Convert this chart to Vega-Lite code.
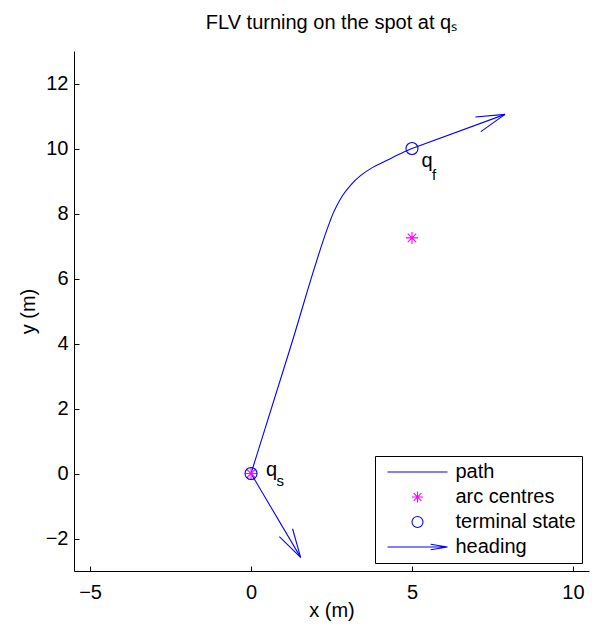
{
  "$schema": "https://vega.github.io/schema/vega-lite/v6.json",
  "width": 515,
  "height": 520,
  "autosize": {"type": "none"},
  "padding": {"left": 74, "top": 51, "right": 12, "bottom": 57},
  "background": "white",
  "title": {
    "text": "FLV turning on the spot at qₛ",
    "font": "Liberation Sans",
    "fontSize": 20,
    "fontWeight": "normal",
    "color": "black",
    "anchor": "middle",
    "baseline": "alphabetic",
    "offset": 2
  },
  "datasets": {
    "path": [
      {"x": 0, "y": 0},
      {"x": 1.2, "y": 3.8},
      {"x": 2.45, "y": 7.75},
      {"x": 2.54, "y": 7.98},
      {"x": 2.66, "y": 8.23},
      {"x": 2.85, "y": 8.56},
      {"x": 3.11, "y": 8.89},
      {"x": 3.42, "y": 9.18},
      {"x": 3.78, "y": 9.42},
      {"x": 4.19, "y": 9.62},
      {"x": 4.6, "y": 9.82},
      {"x": 5, "y": 10}
    ],
    "heading": [
      {"x": 0, "y": 0, "x2": 1.54, "y2": -2.58},
      {"x": 1.54, "y": -2.58, "x2": 0.88, "y2": -1.94},
      {"x": 1.54, "y": -2.58, "x2": 1.29, "y2": -1.70},
      {"x": 5, "y": 10, "x2": 7.89, "y2": 11.05},
      {"x": 7.89, "y": 11.05, "x2": 6.97, "y2": 10.97},
      {"x": 7.89, "y": 11.05, "x2": 7.14, "y2": 10.52}
    ],
    "markers": [
      {"x": 0, "y": 0, "series": "arc centres"},
      {"x": 5, "y": 7.25, "series": "arc centres"},
      {"x": 0, "y": 0, "series": "terminal state"},
      {"x": 5, "y": 10, "series": "terminal state"}
    ],
    "labels": [
      {"x": 0, "y": 0, "main": "q", "sub": "s", "name": "qs"},
      {"x": 5, "y": 10, "main": "q", "sub": "f", "name": "qf"}
    ]
  },
  "config": {
    "view": {"stroke": null},
    "axis": {
      "grid": false,
      "domainColor": "black",
      "domainWidth": 1,
      "tickColor": "black",
      "tickWidth": 1,
      "tickSize": -5,
      "labelColor": "black",
      "titleColor": "black",
      "labelFont": "Liberation Sans",
      "titleFont": "Liberation Sans",
      "labelFontSize": 20,
      "titleFontSize": 20,
      "titleFontWeight": "normal"
    },
    "legend": {
      "orient": "none",
      "legendX": 301,
      "legendY": 405,
      "strokeColor": "black",
      "fillColor": "white",
      "padding": 6,
      "symbolSize": 121,
      "symbolStrokeWidth": 1.1,
      "symbolOffset": 26.5,
      "labelOffset": 28,
      "rowPadding": 5,
      "labelFont": "Liberation Sans",
      "labelFontSize": 20,
      "labelColor": "black"
    }
  },
  "layer": [
    {
      "data": {"name": "path"},
      "mark": {"type": "line", "strokeWidth": 1.1, "interpolate": "monotone", "color": "#0000ff"},
      "encoding": {
        "x": {
          "field": "x", "type": "quantitative",
          "scale": {"domain": [-5.5, 10.5], "nice": false, "zero": false},
          "axis": {"title": "x (m)", "values": [-5, 0, 5, 10], "labelPadding": 16, "titlePadding": -2}
        },
        "y": {
          "field": "y", "type": "quantitative",
          "scale": {"domain": [-3, 13], "nice": false, "zero": false},
          "axis": {"title": "y (m)", "values": [-2, 0, 2, 4, 6, 8, 10, 12], "labelPadding": 11, "titlePadding": 7}
        }
      }
    },
    {
      "data": {"name": "heading"},
      "mark": {"type": "rule", "strokeWidth": 1.1, "color": "#0000ff"},
      "encoding": {
        "x": {"field": "x", "type": "quantitative"},
        "y": {"field": "y", "type": "quantitative"},
        "x2": {"field": "x2"},
        "y2": {"field": "y2"}
      }
    },
    {
      "data": {"name": "markers"},
      "mark": {"type": "point", "filled": false, "size": 144, "strokeWidth": 1.1, "opacity": 1},
      "encoding": {
        "x": {"field": "x", "type": "quantitative"},
        "y": {"field": "y", "type": "quantitative"},
        "color": {
          "field": "series", "type": "nominal",
          "scale": {"domain": ["path", "arc centres", "terminal state", "heading"], "range": ["#0000ff", "#ff00ff", "#0000ff", "#0000ff"]},
          "legend": {
            "title": null,
            "encode": {
              "symbols": {
                "update": {
                  "fill": {"value": "transparent"},
                  "stroke": {"scale": "color", "field": "value"},
                  "opacity": {"value": 1}
                }
              }
            }
          }
        },
        "shape": {
          "field": "series", "type": "nominal",
          "scale": {
            "domain": ["path", "arc centres", "terminal state", "heading"],
            "range": [
              "M-5.45,0L5.45,0",
              "M-1,0L1,0M0,-1L0,1M-0.7,-0.7L0.7,0.7M-0.7,0.7L0.7,-0.7",
              "circle",
              "M-5.45,0L5.45,0M2.4,-0.5L5.45,0L2.4,0.5"
            ]
          },
          "legend": {
            "title": null,
            "encode": {
              "symbols": {
                "update": {
                  "fill": {"value": "transparent"},
                  "stroke": {"scale": "color", "field": "value"},
                  "opacity": {"value": 1}
                }
              }
            }
          }
        }
      }
    },
    {
      "data": {"name": "labels"},
      "transform": [{"filter": "datum.name === 'qs'"}],
      "mark": {"type": "text", "align": "left", "baseline": "alphabetic", "dx": 15, "dy": 2.5, "font": "Liberation Sans", "fontSize": 20, "color": "black"},
      "encoding": {
        "x": {"field": "x", "type": "quantitative"},
        "y": {"field": "y", "type": "quantitative"},
        "text": {"field": "main"}
      }
    },
    {
      "data": {"name": "labels"},
      "transform": [{"filter": "datum.name === 'qs'"}],
      "mark": {"type": "text", "align": "left", "baseline": "alphabetic", "dx": 25.5, "dy": 12.4, "font": "Liberation Sans", "fontSize": 15, "color": "black"},
      "encoding": {
        "x": {"field": "x", "type": "quantitative"},
        "y": {"field": "y", "type": "quantitative"},
        "text": {"field": "sub"}
      }
    },
    {
      "data": {"name": "labels"},
      "transform": [{"filter": "datum.name === 'qf'"}],
      "mark": {"type": "text", "align": "left", "baseline": "alphabetic", "dx": 9.5, "dy": 18.4, "font": "Liberation Sans", "fontSize": 20, "color": "black"},
      "encoding": {
        "x": {"field": "x", "type": "quantitative"},
        "y": {"field": "y", "type": "quantitative"},
        "text": {"field": "main"}
      }
    },
    {
      "data": {"name": "labels"},
      "transform": [{"filter": "datum.name === 'qf'"}],
      "mark": {"type": "text", "align": "left", "baseline": "alphabetic", "dx": 20, "dy": 31.7, "font": "Liberation Sans", "fontSize": 15, "color": "black"},
      "encoding": {
        "x": {"field": "x", "type": "quantitative"},
        "y": {"field": "y", "type": "quantitative"},
        "text": {"field": "sub"}
      }
    }
  ]
}
